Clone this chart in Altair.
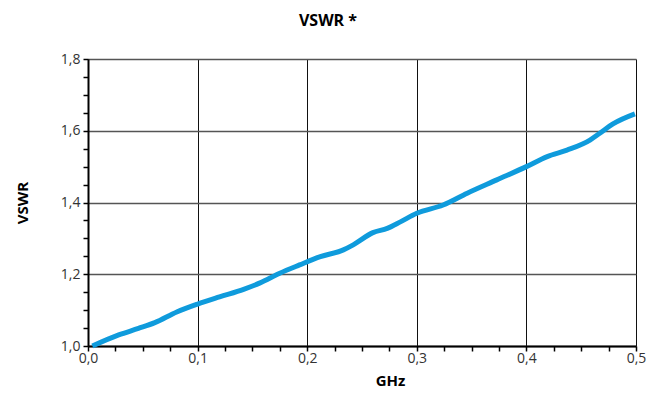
import altair as alt
import pandas as pd

freq = [0.004, 0.028, 0.046, 0.061, 0.081, 0.100, 0.120, 0.142, 0.157, 0.175,
        0.193, 0.212, 0.233, 0.242, 0.260, 0.273, 0.285, 0.300, 0.324,
        0.346, 0.373, 0.400, 0.419, 0.437, 0.458, 0.467, 0.479, 0.499]
vswr = [1.000, 1.031, 1.049, 1.065, 1.095, 1.117, 1.137, 1.158, 1.176, 1.203,
        1.226, 1.249, 1.268, 1.282, 1.316, 1.328, 1.346, 1.370, 1.393,
        1.426, 1.463, 1.500, 1.528, 1.546, 1.574, 1.593, 1.619, 1.647]

x_ticks = [round(i * 0.025, 3) for i in range(21)]
y_ticks = [round(1.0 + i * 0.05, 3) for i in range(17)]

df = pd.DataFrame({"f": freq, "v": vswr})

FONT = "Open Sans"

x_major = "abs(datum.value*10 - round(datum.value*10)) < 0.001"
y_major = "abs(datum.value*5 - round(datum.value*5)) < 0.001"

chart = alt.Chart(df).mark_line(
    color="#0f9bdc", strokeWidth=5, interpolate="monotone"
).encode(
    x=alt.X("f:Q",
            scale=alt.Scale(domain=[0, 0.5], nice=False, zero=False),
            axis=alt.Axis(
                values=x_ticks,
                title="GHz",
                titleX=302, titleY=34, titleAlign="center", titleBaseline="middle",
                titleFont=FONT, titleFontSize=15, titleFontWeight="bold", titleColor="#000",
                labelExpr=f"{x_major} ? replace(format(datum.value, '.1f'), '.', ',') : ''",
                labelOverlap=False, labelFlush=False,
                labelFont=FONT, labelFontSize=14, labelColor="#333", labelPadding=0,
                tickSize=5, tickColor="#000", tickWidth=1.5,
                domainColor="#000", domainWidth=2,
                grid=True, gridColor="#111", gridWidth=1,
                gridOpacity={"condition": {"test": x_major, "value": 1}, "value": 0},
            )),
    y=alt.Y("v:Q",
            scale=alt.Scale(domain=[1.0, 1.8], nice=False, zero=False),
            axis=alt.Axis(
                values=y_ticks,
                title="VSWR",
                titleX=-66, titleY=143.5, titleAngle=270,
                titleAlign="center", titleBaseline="middle",
                titleFont=FONT, titleFontSize=15, titleFontWeight="bold", titleColor="#000",
                labelExpr=f"{y_major} ? replace(format(datum.value, '.1f'), '.', ',') : ''",
                labelOverlap=False,
                labelFont=FONT, labelFontSize=14, labelColor="#333", labelPadding=3,
                tickSize=5, tickColor="#000", tickWidth=1.5,
                domainColor="#000", domainWidth=2,
                grid=True, gridColor="#555", gridWidth=1.5,
                gridOpacity={"condition": {"test": y_major, "value": 1}, "value": 0},
            )),
).properties(
    width=548, height=287,
    title=alt.TitleParams("VSWR *", font=FONT, fontSize=16, fontWeight="bold",
                          color="#000", anchor="middle", dx=-34, offset=23),
    autosize=alt.AutoSizeParams(type="none"),
    padding={"left": 80, "top": 51, "right": 12, "bottom": 42},
).configure_view(
    stroke="#000", strokeWidth=2
).configure(background="white")

chart.save("out.html", embed_options={"renderer": "svg", "actions": False})
